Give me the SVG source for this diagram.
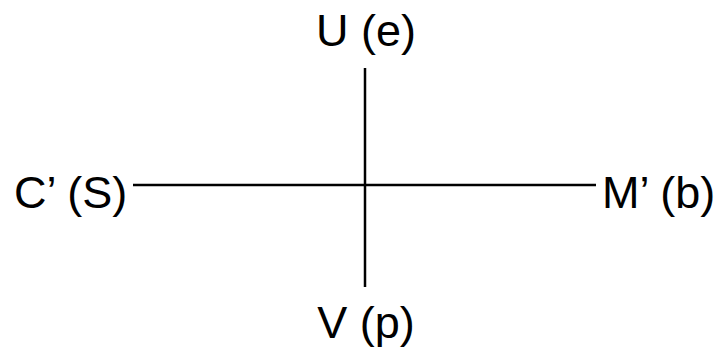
<svg xmlns="http://www.w3.org/2000/svg" width="722" height="353" viewBox="0 0 722 353">
<style>
text{font-family:"Liberation Sans",Arial,sans-serif;font-size:45px;fill:#000}
.ax{stroke:#000;stroke-width:2.5;fill:none}
</style>
<rect width="722" height="353" fill="#fff"/>
<g id="connectors">
<line class="ax" x1="365" y1="68" x2="365" y2="287"/>
<line class="ax" x1="133" y1="185" x2="596" y2="185"/>
</g>
<g id="node-U"><text x="366" y="46" text-anchor="middle">U (e)</text></g>
<g id="node-C"><text x="14" y="208">C’ (S)</text></g>
<g id="node-M"><text x="602" y="208">M’ (b)</text></g>
<g id="node-V"><text x="366" y="338" text-anchor="middle">V (p)</text></g>
</svg>
